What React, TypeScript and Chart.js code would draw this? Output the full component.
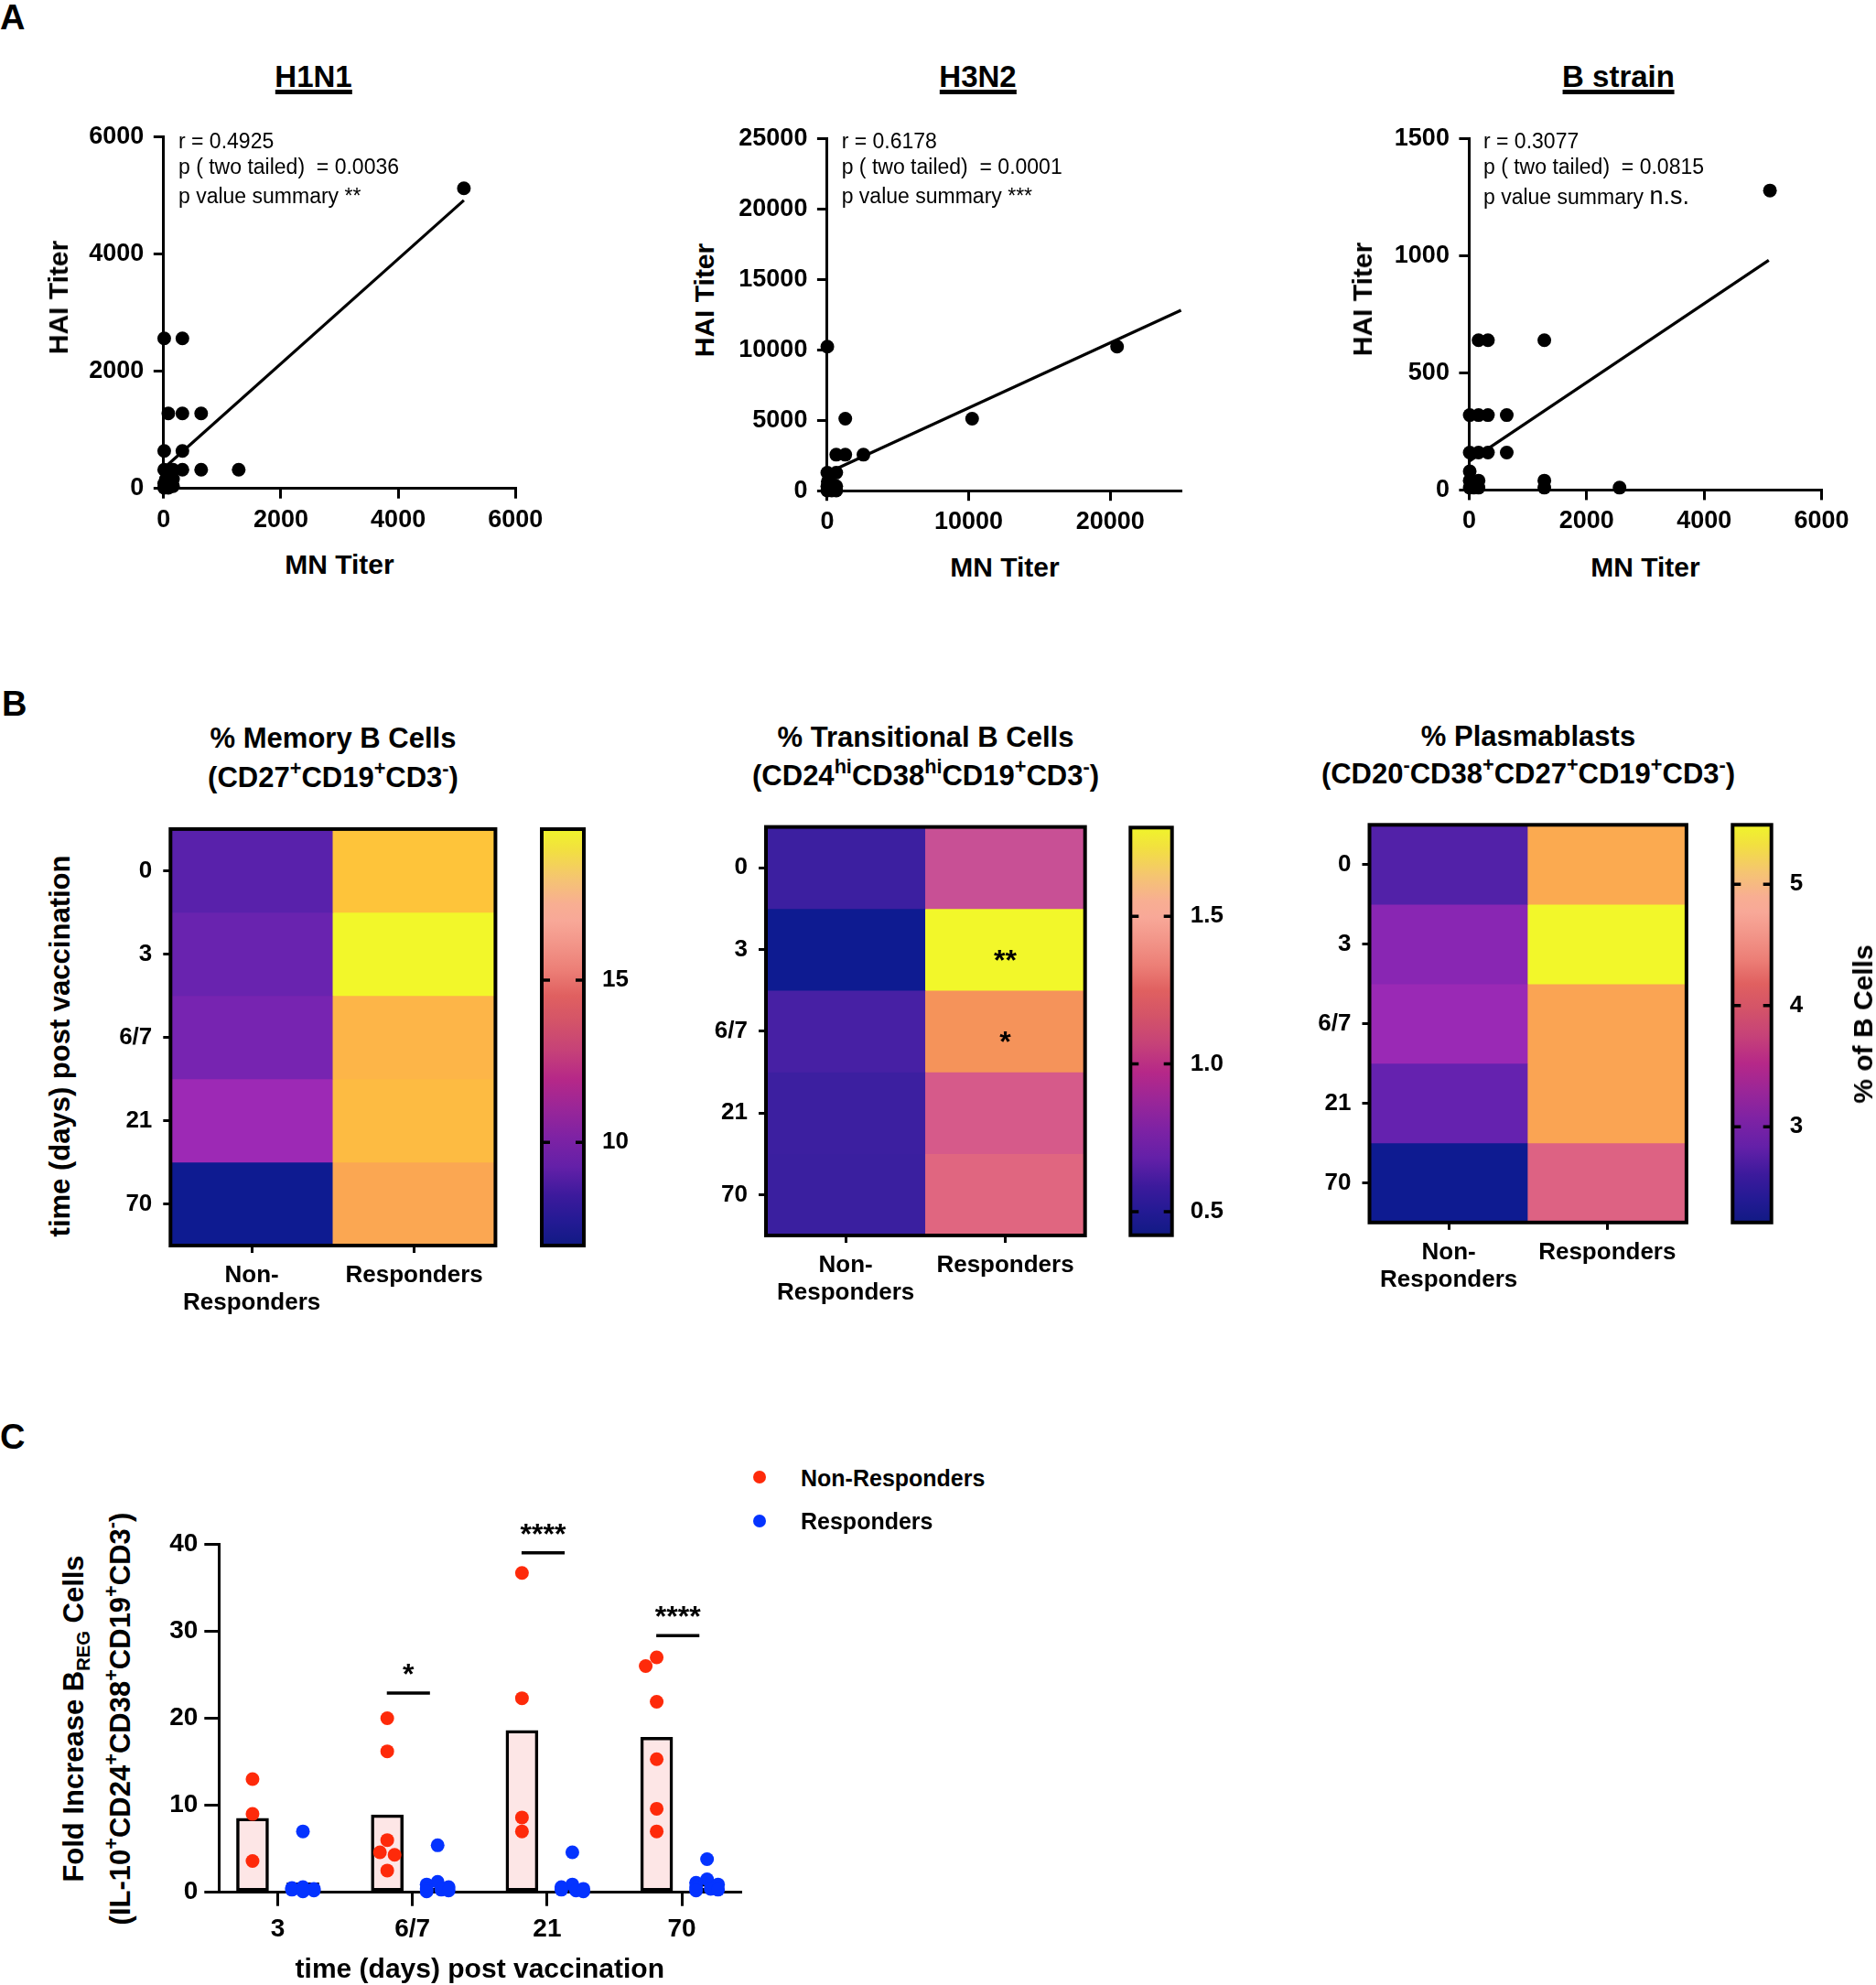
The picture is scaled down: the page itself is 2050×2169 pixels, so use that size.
import React, { useEffect, useRef } from 'react';
import { Chart, registerables } from 'chart.js';

Chart.register(...registerables);

const FONT = "'Liberation Sans', Arial, Helvetica, sans-serif";
const BLACK = '#000000';
const RED = '#fe2a0a';
const BLUE = '#0433ff';

// ---------------- Panel A data (MN titer vs HAI titer) ----------------
const h1n1MN = [5120, 10, 320, 80, 320, 640, 10, 320, 10, 160, 320, 640, 1280, 40, 80, 160, 10, 80, 20, 160, 10, 40, 80];
const h1n1HAI = [5120, 2560, 2560, 1280, 1280, 1280, 640, 640, 320, 320, 320, 320, 320, 160, 160, 160, 80, 80, 40, 40, 10, 20, 10];
const h1n1FitMN = [10, 5120];
const h1n1FitHAI = [350, 4916];
const h1n1XTicks = [0, 2000, 4000, 6000];
const h1n1YTicks = [0, 2000, 4000, 6000];
const h1n1Stats = ['r = 0.4925', 'p ( two tailed)  = 0.0036', 'p value summary ', '**'];

const h3n2MN = [10, 20480, 10240, 1280, 640, 1280, 2560, 10, 640, 160, 640, 10, 320, 80, 40, 320, 640, 10, 40];
const h3n2HAI = [10240, 10240, 5120, 5120, 2560, 2560, 2560, 1280, 1280, 640, 320, 320, 160, 80, 40, 20, 10, 10, 640];
const h3n2FitMN = [10, 25000];
const h3n2FitHAI = [1267, 12832];
const h3n2XTicks = [0, 10000, 20000];
const h3n2YTicks = [0, 5000, 10000, 15000, 20000, 25000];
const h3n2Stats = ['r = 0.6178', 'p ( two tailed)  = 0.0001', 'p value summary ', '***'];

const bMN = [5120, 160, 320, 1280, 10, 160, 320, 640, 10, 160, 320, 640, 10, 10, 160, 1280, 1280, 2560, 10, 160, 40, 80];
const bHAI = [1280, 640, 640, 640, 320, 320, 320, 320, 160, 160, 160, 160, 80, 40, 40, 40, 10, 10, 10, 10, 20, 10];
const bFitMN = [10, 5100];
const bFitHAI = [124, 982];
const bXTicks = [0, 2000, 4000, 6000];
const bYTicks = [0, 500, 1000, 1500];
const bStats = ['r = 0.3077', 'p ( two tailed)  = 0.0815', 'p value summary ', 'n.s.'];

// ---------------- Panel B data (heatmaps) ----------------
const rowLabels = ['0', '3', '6/7', '21', '70'];
const colLabels: any[] = [['Non-', 'Responders'], 'Responders'];

const memNR = [9.13, 9.64, 10.03, 11.31, 6.82];
const memR = [18.37, 19.65, 17.73, 17.98, 17.08];
const memTickVals = [10, 15];
const memTickText = ['10', '15'];

const transNR = [0.558, 0.42, 0.599, 0.558, 0.551];
const transR = [1.055, 1.8, 1.414, 1.138, 1.22];
const transTickVals = [0.5, 1.0, 1.5];
const transTickText = ['0.5', '1.0', '1.5'];
const transStarRows = [1, 2];
const transStarText = ['**', '*'];

const plasNR = [2.735, 3.161, 3.325, 2.899, 2.21];
const plasR = [4.867, 5.49, 4.8, 4.8, 4.047];
const plasTickVals = [3, 4, 5];
const plasTickText = ['3', '4', '5'];

// ---------------- Panel C data (fold increase Breg) ----------------
const timeLabels = ['3', '6/7', '21', '70'];
const seriesNames = ['Non-Responders', 'Responders'];
const nrPoints = [
  [13.0, 9.0, 3.6],
  [20.0, 16.2, 6.0, 4.6, 4.3, 2.5],
  [36.7, 22.3, 8.6, 7.0],
  [27.0, 26.0, 21.9, 15.3, 9.6, 7.0],
];
const rPoints = [
  [7.0, 0.6, 0.5, 0.4, 0.3, 0.2, 0.1],
  [5.4, 1.2, 0.9, 0.6, 0.4, 0.3, 0.2, 0.1],
  [4.6, 0.9, 0.6, 0.4, 0.3, 0.2, 0.1],
  [3.8, 1.5, 1.1, 0.9, 0.6, 0.4, 0.3, 0.2],
];
const nrMean = [8.5, 8.9, 18.6, 17.8];
const rMean = [1.1, 0.95, 0.85, 1.0];
const cYTicks = [0, 10, 20, 30, 40];
const sigGroup = [1, 2, 3];
const sigY = [22.9, 39.0, 29.5];
const sigText = ['*', '****', '****'];

// ---------------- colour maps ----------------
const cellStops: [number, string][] = [
  [0.0, '#0e1b91'], [0.1, '#3c1fa0'], [0.2, '#6022ae'], [0.3, '#8e26b4'], [0.36, '#a02ab5'],
  [0.46, '#c85095'], [0.52, '#d65a8a'], [0.58, '#e06680'], [0.72, '#f5935a'], [0.8, '#fba752'],
  [0.85, '#fdb548'], [0.9, '#fec43a'], [1.0, '#f2f72a'],
];
const barStops: [number, string][] = [
  [0.0, '#111a84'], [0.06, '#241a94'], [0.12, '#3c1a9c'], [0.19, '#6420a8'], [0.26, '#7e22a4'],
  [0.33, '#9a2698'], [0.4, '#b62888'], [0.47, '#c64278'], [0.54, '#d45468'], [0.6, '#e06060'],
  [0.66, '#ec7e76'], [0.72, '#f29488'], [0.78, '#f8a898'], [0.82, '#f8ae92'], [0.88, '#f5c472'],
  [0.95, '#f2e040'], [1.0, '#f0f42a'],
];

function hexToRgb(h: string) {
  const n = parseInt(h.slice(1), 16);
  return [(n >> 16) & 255, (n >> 8) & 255, n & 255];
}
function mapColor(stops: [number, string][], t: number) {
  const tt = Math.max(0, Math.min(1, t));
  for (let i = 1; i < stops.length; i++) {
    if (tt <= stops[i][0]) {
      const [t0, c0] = stops[i - 1];
      const [t1, c1] = stops[i];
      const f = (tt - t0) / (t1 - t0 || 1);
      const a = hexToRgb(c0);
      const b = hexToRgb(c1);
      return `rgb(${a.map((v, k) => Math.round(v + (b[k] - v) * f)).join(',')})`;
    }
  }
  return stops[stops.length - 1][1];
}

// ---------------- helpers ----------------
type Box = { x0: number; y0: number; x1: number; y1: number };
type Area = { L: number; T: number; R: number; B: number };

const tickFont = (size: number) => ({ family: FONT, size, weight: 'bold', lineHeight: 1.15 });
const tickGrid = (tl: number) => ({
  display: true, drawOnChartArea: false, drawTicks: true, tickLength: tl,
  lineWidth: 3, tickWidth: 3, color: BLACK, tickColor: BLACK, offset: false,
});
const fixW = (w: number) => (s: any) => { s.width = w; s.paddingTop = 0; s.paddingBottom = 0; };
const fixH = (h: number) => (s: any) => { s.height = h; s.paddingLeft = 0; s.paddingRight = 0; };
const setTicks = (vals: number[]) => (s: any) => { s.ticks = vals.map((v) => ({ value: v })); };

const baseOptions = {
  responsive: false,
  animation: false,
  events: [],
  plugins: { legend: { display: false }, tooltip: { enabled: false }, title: { display: false } },
};

const framePlugin = (w: number) => ({
  id: 'frame',
  afterDatasetsDraw(chart: any) {
    const { ctx, chartArea: a } = chart;
    ctx.save();
    ctx.strokeStyle = BLACK;
    ctx.lineWidth = w;
    ctx.strokeRect(a.left, a.top, a.right - a.left, a.bottom - a.top);
    ctx.restore();
  },
});

const innerTicksPlugin = {
  id: 'innerTicks',
  afterDatasetsDraw(chart: any) {
    const { ctx, chartArea: a } = chart;
    const y = chart.scales.y;
    ctx.save();
    ctx.strokeStyle = BLACK;
    ctx.lineWidth = 3.5;
    y.ticks.forEach((t: any) => {
      const p = y.getPixelForValue(t.value);
      ctx.beginPath();
      ctx.moveTo(a.left, p); ctx.lineTo(a.left + 9, p);
      ctx.moveTo(a.right - 9, p); ctx.lineTo(a.right, p);
      ctx.stroke();
    });
    ctx.restore();
  },
};

// ---------------- chart configs ----------------
function scatterConfig(mx: number[], hy: number[], fx: number[], fy: number[], xMax: number, xTicks: number[], yMax: number, yTicks: number[], area: Area, box: Box) {
  const yW = area.L - box.x0;
  const padTop = area.T - box.y0;
  const padRight = box.x1 - area.R;
  const xH = box.y1 - area.B;
  return {
    type: 'scatter',
    data: {
      datasets: [
        {
          type: 'scatter', data: mx.map((x, i) => ({ x, y: hy[i] })),
          pointRadius: 7.5, pointHoverRadius: 7.5, pointBackgroundColor: BLACK, backgroundColor: BLACK,
          pointBorderWidth: 0, borderWidth: 0, clip: false, order: 0,
        },
        {
          type: 'line', data: fx.map((x, i) => ({ x, y: fy[i] })),
          borderColor: BLACK, borderWidth: 3.2, pointRadius: 0, fill: false, tension: 0, clip: false, order: 1,
        },
      ],
    },
    options: {
      ...baseOptions,
      layout: { padding: { left: 0, top: padTop, right: padRight, bottom: 0 } },
      scales: {
        x: {
          type: 'linear', min: 0, max: xMax, afterBuildTicks: setTicks(xTicks),
          ticks: { font: tickFont(27), color: BLACK, padding: 8, maxRotation: 0, autoSkip: false, callback: (v: any) => String(v) },
          grid: tickGrid(11), border: { display: true, width: 3, color: BLACK }, afterFit: fixH(xH),
        },
        y: {
          type: 'linear', min: 0, max: yMax, afterBuildTicks: setTicks(yTicks),
          ticks: { font: tickFont(27), color: BLACK, padding: 10.5, autoSkip: false, callback: (v: any) => String(v) },
          grid: tickGrid(11), border: { display: true, width: 3, color: BLACK }, afterFit: fixW(yW),
        },
      },
    },
  };
}

function heatConfig(nr: number[], rr: number[], starRows: number[], starText: string[], area: Area, box: Box) {
  const all = [...nr, ...rr];
  const lo = Math.min(...all);
  const hi = Math.max(...all);
  const col = (v: number) => mapColor(cellStops, (v - lo) / (hi - lo));
  const yW = area.L - box.x0;
  const padTop = area.T - box.y0;
  const padRight = box.x1 - area.R;
  const xH = box.y1 - area.B;
  const starPlugin = {
    id: 'hstars',
    afterDatasetsDraw(chart: any) {
      const { ctx } = chart;
      const { x, y } = chart.scales;
      ctx.save();
      ctx.font = `bold 32px ${FONT}`;
      ctx.fillStyle = BLACK;
      ctx.textAlign = 'center';
      ctx.textBaseline = 'alphabetic';
      starRows.forEach((r, i) => ctx.fillText(starText[i], x.getPixelForValue(1), y.getPixelForValue(r + 0.5) + 22));
      ctx.restore();
    },
  };
  return {
    type: 'bar',
    data: {
      labels: colLabels,
      datasets: rowLabels.map((_, i) => ({
        data: [[i, i + 1], [i, i + 1]],
        backgroundColor: [col(nr[i]), col(rr[i])],
        borderWidth: 0, barPercentage: 1, categoryPercentage: 1, grouped: false,
      })),
    },
    options: {
      ...baseOptions,
      layout: { padding: { left: 0, top: padTop, right: padRight, bottom: 0 } },
      scales: {
        x: {
          type: 'category', offset: true,
          ticks: { font: tickFont(26), color: BLACK, padding: 10, maxRotation: 0, autoSkip: false },
          grid: tickGrid(8), border: { display: false }, afterFit: fixH(xH),
        },
        y: {
          type: 'linear', min: 0, max: rowLabels.length, reverse: true,
          afterBuildTicks: setTicks(rowLabels.map((_, i) => i + 0.5)),
          ticks: { font: tickFont(26), color: BLACK, padding: 12, autoSkip: false, callback: (_v: any, i: number) => rowLabels[i] },
          grid: tickGrid(8), border: { display: false }, afterFit: fixW(yW),
        },
      },
    },
    plugins: [framePlugin(4), starPlugin],
  };
}

function colorbarConfig(values: number[], tickVals: number[], tickText: string[], area: Area, box: Box) {
  const lo = Math.min(...values);
  const hi = Math.max(...values);
  return {
    type: 'bar',
    data: {
      labels: [''],
      datasets: [{
        data: [[lo, hi]],
        backgroundColor: (c: any) => {
          const ca = c.chart.chartArea;
          if (!ca) return '#888888';
          const g = c.chart.ctx.createLinearGradient(0, ca.bottom, 0, ca.top);
          barStops.forEach(([t, cc]) => g.addColorStop(t, cc));
          return g;
        },
        borderWidth: 0, barPercentage: 1, categoryPercentage: 1,
      }],
    },
    options: {
      ...baseOptions,
      layout: { padding: { left: area.L - box.x0, top: area.T - box.y0, right: 0, bottom: box.y1 - area.B } },
      scales: {
        x: { display: false },
        y: {
          type: 'linear', position: 'right', min: lo, max: hi, afterBuildTicks: setTicks(tickVals),
          ticks: { font: tickFont(26), color: BLACK, padding: 20, autoSkip: false, callback: (_v: any, i: number) => tickText[i] },
          grid: { display: false, drawTicks: false }, border: { display: false }, afterFit: fixW(box.x1 - area.R),
        },
      },
    },
    plugins: [framePlugin(4), innerTicksPlugin],
  };
}

// bee-swarm offsets (pixel space) so that dots of one column do not pile up
function swarm(vals: number[], pxX: number, pxY: number, r: number, step: number, maxOff: number) {
  const idx = vals.map((_, i) => i).sort((a, b) => vals[b] - vals[a]);
  const cands: number[] = [0];
  for (let k = 1; k * step <= maxOff + 1e-9; k++) cands.push(-k * step, k * step);
  const placed: { dx: number; dy: number }[] = [];
  const out = new Array(vals.length).fill(0);
  for (const i of idx) {
    const yy = vals[i] * pxY;
    let best = 0;
    let bestOv = Infinity;
    for (const c of cands) {
      let ov = 0;
      for (const p of placed) {
        const d = Math.hypot(c - p.dx, yy - p.dy);
        if (d < 2 * r) ov += 2 * r - d;
      }
      if (ov < bestOv - 1e-9) { bestOv = ov; best = c; }
      if (ov === 0) break;
    }
    placed.push({ dx: best, dy: yy });
    out[i] = best / pxX;
  }
  return out;
}

function cConfig(area: Area, box: Box) {
  const SHIFT = 0.187;
  const xMin = -0.436;
  const xMax = 3.436;
  const pxX = (area.R - area.L) / (xMax - xMin);
  const pxY = (area.B - area.T) / 40;
  const nrOff = nrPoints.map((g) => swarm(g, pxX, pxY, 7.5, 4, 12));
  const rOff = rPoints.map((g) => swarm(g, pxX, pxY, 7.5, 4, 12));
  const starPlugin = {
    id: 'cstars',
    afterDatasetsDraw(chart: any) {
      const { ctx } = chart;
      const { x, y } = chart.scales;
      ctx.save();
      ctx.font = `bold 32px ${FONT}`;
      ctx.fillStyle = BLACK;
      ctx.textAlign = 'center';
      ctx.textBaseline = 'alphabetic';
      sigGroup.forEach((g, i) => ctx.fillText(sigText[i], x.getPixelForValue(g - 0.03), y.getPixelForValue(sigY[i]) - 10));
      ctx.restore();
    },
  };
  const dot = (color: string) => ({
    pointRadius: 7.5, pointHoverRadius: 7.5, pointBackgroundColor: color, backgroundColor: color,
    pointBorderWidth: 0, borderWidth: 0, clip: false, order: 0,
  });
  return {
    type: 'bar',
    data: {
      datasets: [
        { type: 'scatter', label: seriesNames[0], data: nrPoints.flatMap((g, gi) => g.map((v, k) => ({ x: gi - SHIFT + nrOff[gi][k], y: v }))), ...dot(RED) },
        { type: 'scatter', label: seriesNames[1], data: rPoints.flatMap((g, gi) => g.map((v, k) => ({ x: gi + SHIFT + rOff[gi][k], y: v }))), ...dot(BLUE) },
        ...sigGroup.map((g, i) => ({
          type: 'line', data: [{ x: g - 0.19, y: sigY[i] }, { x: g + 0.13, y: sigY[i] }],
          borderColor: BLACK, borderWidth: 3.5, pointRadius: 0, fill: false, clip: false, order: 1,
        })),
        {
          type: 'bar', label: seriesNames[0] + ' mean', data: nrMean.map((v, gi) => ({ x: gi - SHIFT, y: v })),
          backgroundColor: '#fde6e6', borderColor: BLACK, borderWidth: 3.5, borderSkipped: false,
          barThickness: 35, grouped: false, order: 2,
        },
        {
          type: 'bar', label: seriesNames[1] + ' mean', data: rMean.map((v, gi) => ({ x: gi + SHIFT, y: v })),
          backgroundColor: '#e6ecff', borderColor: BLACK, borderWidth: 3.5, borderSkipped: false,
          barThickness: 35, grouped: false, order: 2,
        },
      ],
    },
    options: {
      ...baseOptions,
      layout: { padding: { left: 0, top: area.T - box.y0, right: box.x1 - area.R, bottom: 0 } },
      scales: {
        x: {
          type: 'linear', min: xMin, max: xMax, offset: false, afterBuildTicks: setTicks(timeLabels.map((_, i) => i)),
          ticks: { font: tickFont(28), color: BLACK, padding: 9, maxRotation: 0, autoSkip: false, callback: (_v: any, i: number) => timeLabels[i] },
          grid: tickGrid(15), border: { display: true, width: 3, color: BLACK }, afterFit: fixH(box.y1 - area.B),
        },
        y: {
          type: 'linear', min: 0, max: 40, afterBuildTicks: setTicks(cYTicks),
          ticks: { font: tickFont(28), color: BLACK, padding: 7, autoSkip: false, callback: (v: any) => String(v) },
          grid: tickGrid(16), border: { display: true, width: 3, color: BLACK }, afterFit: fixW(area.L - box.x0),
        },
      },
    },
    plugins: [starPlugin],
  };
}

// ---------------- layout ----------------
const SC1_AREA: Area = { L: 178.8, T: 149.4, R: 563.3, B: 533.7 };
const SC1_BOX: Box = { x0: 70, y0: 110, x1: 610, y1: 600 };
const SC2_AREA: Area = { L: 903.9, T: 151.9, R: 1290.6, B: 536.2 };
const SC2_BOX: Box = { x0: 790, y0: 110, x1: 1340, y1: 600 };
const SC3_AREA: Area = { L: 1605.4, T: 151.9, R: 1990.6, B: 535.4 };
const SC3_BOX: Box = { x0: 1500, y0: 110, x1: 2050, y1: 600 };

const HM1_AREA: Area = { L: 186.3, T: 905.9, R: 541.4, B: 1361 };
const HM1_BOX: Box = { x0: 90, y0: 880, x1: 560, y1: 1460 };
const HM2_AREA: Area = { L: 837, T: 903.6, R: 1185.7, B: 1350 };
const HM2_BOX: Box = { x0: 760, y0: 880, x1: 1200, y1: 1450 };
const HM3_AREA: Area = { L: 1496.5, T: 901.3, R: 1842.9, B: 1335.8 };
const HM3_BOX: Box = { x0: 1420, y0: 880, x1: 1860, y1: 1440 };

const CB1_AREA: Area = { L: 592, T: 906, R: 638, B: 1361 };
const CB1_BOX: Box = { x0: 585, y0: 880, x1: 740, y1: 1385 };
const CB2_AREA: Area = { L: 1235.3, T: 904.3, R: 1280.7, B: 1349.7 };
const CB2_BOX: Box = { x0: 1228, y0: 880, x1: 1380, y1: 1375 };
const CB3_AREA: Area = { L: 1893.3, T: 901.3, R: 1935.7, B: 1335.8 };
const CB3_BOX: Box = { x0: 1886, y0: 880, x1: 2020, y1: 1360 };

const C_AREA: Area = { L: 239.3, T: 1687.3, R: 809.3, B: 2067.7 };
const C_BOX: Box = { x0: 150, y0: 1630, x1: 850, y1: 2135 };

// ---------------- components ----------------
function ChartCanvas({ box, make }: { box: Box; make: () => any }) {
  const ref = useRef<HTMLCanvasElement | null>(null);
  const w = box.x1 - box.x0;
  const h = box.y1 - box.y0;
  useEffect(() => {
    if (!ref.current) return;
    const chart = new Chart(ref.current, make());
    return () => chart.destroy();
  }, []);
  return (
    <div style={{ position: 'absolute', left: box.x0, top: box.y0, width: w, height: h }}>
      <canvas ref={ref} width={w} height={h} style={{ width: w, height: h }} />
    </div>
  );
}

function Txt({ x, y, size, children, align = 'center', weight = 700, rot = false }: any) {
  const tx = align === 'center' ? '-50%' : align === 'right' ? '-100%' : '0px';
  return (
    <div
      style={{
        position: 'absolute', left: x, top: y, fontSize: size, fontWeight: weight, lineHeight: 1,
        whiteSpace: 'pre', fontFamily: FONT, color: BLACK,
        transform: rot ? 'translate(-50%, -50%) rotate(-90deg)' : `translate(${tx}, -50%)`,
      }}
    >
      {children}
    </div>
  );
}

function UTitle({ cx, base, children }: any) {
  const fs = 33;
  return (
    <div
      style={{
        position: 'absolute', left: cx, top: base - 0.7965 * fs, transform: 'translateX(-50%)',
        fontSize: fs, fontWeight: 700, lineHeight: 0.9, whiteSpace: 'nowrap', fontFamily: FONT,
        color: BLACK, borderBottom: '5px solid #000',
      }}
    >
      {children}
    </div>
  );
}

const Sup = ({ children }: any) => (
  <span style={{ fontSize: '0.7em', position: 'relative', top: '-0.6em' }}>{children}</span>
);
const Sub = ({ children }: any) => (
  <span style={{ fontSize: '0.65em', position: 'relative', top: '0.35em' }}>{children}</span>
);

function Stats({ x, lines, bigLast }: { x: number; lines: string[]; bigLast?: boolean }) {
  return (
    <>
      <Txt x={x} y={154} size={23} weight={400} align="left">{lines[0]}</Txt>
      <Txt x={x} y={182} size={23} weight={400} align="left">{lines[1]}</Txt>
      <Txt x={x} y={214} size={23} weight={400} align="left">
        {lines[2]}
        <span style={{ fontSize: bigLast ? 27 : 23 }}>{lines[3]}</span>
      </Txt>
    </>
  );
}

export default function App() {
  return (
    <div
      style={{
        position: 'absolute', left: 0, top: 0, width: 2050, height: 2169, background: '#ffffff',
        overflow: 'hidden', fontFamily: FONT, color: BLACK,
      }}
    >
      {/* ---------- Panel A ---------- */}
      <Txt x={0} y={19} size={38} align="left">A</Txt>
      <UTitle cx={342.5} base={95}>H1N1</UTitle>
      <UTitle cx={1068.5} base={95}>H3N2</UTitle>
      <UTitle cx={1768.5} base={95}>B strain</UTitle>

      <ChartCanvas box={SC1_BOX} make={() => scatterConfig(h1n1MN, h1n1HAI, h1n1FitMN, h1n1FitHAI, 6000, h1n1XTicks, 6000, h1n1YTicks, SC1_AREA, SC1_BOX)} />
      <ChartCanvas box={SC2_BOX} make={() => scatterConfig(h3n2MN, h3n2HAI, h3n2FitMN, h3n2FitHAI, 25000, h3n2XTicks, 25000, h3n2YTicks, SC2_AREA, SC2_BOX)} />
      <ChartCanvas box={SC3_BOX} make={() => scatterConfig(bMN, bHAI, bFitMN, bFitHAI, 6000, bXTicks, 1500, bYTicks, SC3_AREA, SC3_BOX)} />

      <Stats x={195} lines={h1n1Stats} />
      <Stats x={919.7} lines={h3n2Stats} />
      <Stats x={1621} lines={bStats} bigLast />

      <Txt x={371} y={617} size={30}>MN Titer</Txt>
      <Txt x={1098} y={620} size={30}>MN Titer</Txt>
      <Txt x={1798} y={620} size={30}>MN Titer</Txt>
      <Txt x={63.6} y={325} size={30} rot>HAI Titer</Txt>
      <Txt x={770} y={327.5} size={30} rot>HAI Titer</Txt>
      <Txt x={1488.6} y={327} size={30} rot>HAI Titer</Txt>

      {/* ---------- Panel B ---------- */}
      <Txt x={2} y={769} size={38} align="left">B</Txt>

      <Txt x={364} y={805.7} size={31}>% Memory B Cells</Txt>
      <Txt x={364} y={849} size={31}>(CD27<Sup>+</Sup>CD19<Sup>+</Sup>CD3<Sup>-</Sup>)</Txt>
      <Txt x={1011.5} y={805} size={31}>% Transitional B Cells</Txt>
      <Txt x={1011.5} y={847} size={31}>(CD24<Sup>hi</Sup>CD38<Sup>hi</Sup>CD19<Sup>+</Sup>CD3<Sup>-</Sup>)</Txt>
      <Txt x={1670} y={803.8} size={31}>% Plasmablasts</Txt>
      <Txt x={1670} y={845} size={31}>(CD20<Sup>-</Sup>CD38<Sup>+</Sup>CD27<Sup>+</Sup>CD19<Sup>+</Sup>CD3<Sup>-</Sup>)</Txt>

      <ChartCanvas box={HM1_BOX} make={() => heatConfig(memNR, memR, [], [], HM1_AREA, HM1_BOX)} />
      <ChartCanvas box={CB1_BOX} make={() => colorbarConfig([...memNR, ...memR], memTickVals, memTickText, CB1_AREA, CB1_BOX)} />
      <ChartCanvas box={HM2_BOX} make={() => heatConfig(transNR, transR, transStarRows, transStarText, HM2_AREA, HM2_BOX)} />
      <ChartCanvas box={CB2_BOX} make={() => colorbarConfig([...transNR, ...transR], transTickVals, transTickText, CB2_AREA, CB2_BOX)} />
      <ChartCanvas box={HM3_BOX} make={() => heatConfig(plasNR, plasR, [], [], HM3_AREA, HM3_BOX)} />
      <ChartCanvas box={CB3_BOX} make={() => colorbarConfig([...plasNR, ...plasR], plasTickVals, plasTickText, CB3_AREA, CB3_BOX)} />

      <Txt x={65} y={1143} size={31} rot>time (days) post vaccination</Txt>
      <Txt x={2036} y={1119} size={30} rot>% of B Cells</Txt>

      {/* ---------- Panel C ---------- */}
      <Txt x={0} y={1570} size={38} align="left">C</Txt>
      <ChartCanvas box={C_BOX} make={() => cConfig(C_AREA, C_BOX)} />
      <Txt x={80} y={1878} size={31} rot>Fold Increase B<Sub>REG</Sub> Cells</Txt>
      <Txt x={131} y={1878} size={31} rot>(IL-10<Sup>+</Sup>CD24<Sup>+</Sup>CD38<Sup>+</Sup>CD19<Sup>+</Sup>CD3<Sup>-</Sup>)</Txt>
      <Txt x={524.3} y={2151} size={30}>time (days) post vaccination</Txt>

      {seriesNames.map((n, i) => (
        <React.Fragment key={n}>
          <div
            style={{
              position: 'absolute', left: 823, top: (i === 0 ? 1614.3 : 1661.7) - 7, width: 14, height: 14,
              borderRadius: '50%', background: i === 0 ? RED : BLUE,
            }}
          />
          <Txt x={875} y={i === 0 ? 1615 : 1662} size={25} align="left">{n}</Txt>
        </React.Fragment>
      ))}
    </div>
  );
}
